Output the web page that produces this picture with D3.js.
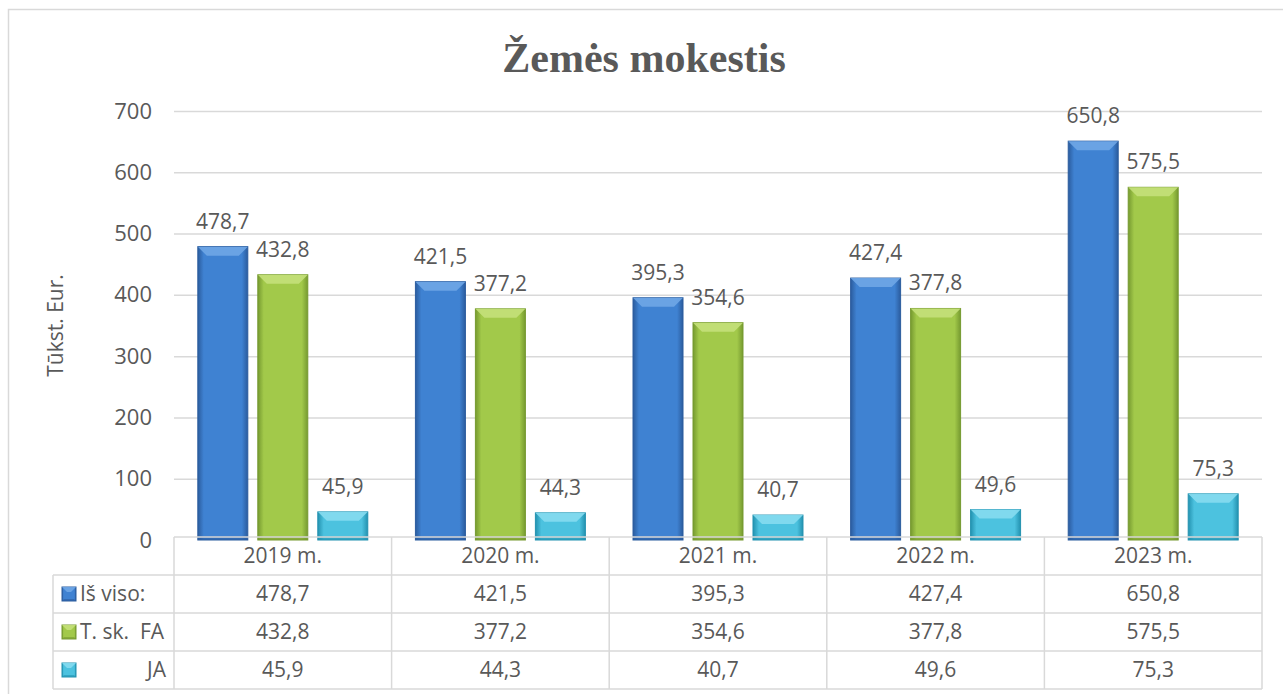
<!DOCTYPE html>
<html>
<head>
<meta charset="utf-8">
<script src="https://cdn.jsdelivr.net/npm/d3@7"></script>
<style>
  html, body { margin: 0; padding: 0; background: #fff; }
  svg text { font-family: "Open Sans", sans-serif; fill: #595959; }
</style>
</head>
<body>
<svg id="chart" width="1283" height="694"></svg>
<script>
// ---- data ----
const years   = ["2019 m.", "2020 m.", "2021 m.", "2022 m.", "2023 m."];
const series  = ["Iš viso:", "T. sk.  FA", "JA"];
const isViso  = [478.7, 421.5, 395.3, 427.4, 650.8];
const fa      = [432.8, 377.2, 354.6, 377.8, 575.5];
const ja      = [45.9, 44.3, 40.7, 49.6, 75.3];
const yTicks  = [0, 100, 200, 300, 400, 500, 600, 700];

const values = [isViso, fa, ja];
const COLORS = [
  { edge: "#2b5c9e", mid: "#3f82d2", top: "#6fa6e6" },
  { edge: "#769a30", mid: "#a2c94a", top: "#c4e07a" },
  { edge: "#2392b0", mid: "#4cc2df", top: "#86dcef" }
];
const fmt = v => d3.format(".1f")(v).replace(".", ",");
const FS = "21px";

const svg = d3.select("#chart");
const M = { l: 174, r: 1262, t: 111, b: 540 };

// outer frame
svg.append("rect")
  .attr("x", 8.5).attr("y", 9.5).attr("width", 1290).attr("height", 700)
  .attr("fill", "none").attr("stroke", "#d9d9d9").attr("stroke-width", 1.5);

// gradients
const defs = svg.append("defs");
COLORS.forEach((c, i) => {
  const gr = defs.append("linearGradient").attr("id", "g" + i)
    .attr("x1", 0).attr("x2", 1).attr("y1", 0).attr("y2", 0);
  gr.append("stop").attr("offset", "0%").attr("stop-color", c.edge);
  gr.append("stop").attr("offset", "12%").attr("stop-color", c.mid);
  gr.append("stop").attr("offset", "88%").attr("stop-color", c.mid);
  gr.append("stop").attr("offset", "100%").attr("stop-color", c.edge);
});

// title
svg.append("text")
  .attr("x", 644).attr("y", 72)
  .attr("text-anchor", "middle")
  .style("font-family", "'Liberation Serif', 'Times New Roman', serif")
  .style("font-weight", "bold")
  .style("font-size", "42px")
  .text("Žemės mokestis");

// scales
const x = d3.scaleBand().domain(years).range([M.l, M.r]).padding(0);
const xs = d3.scaleBand().domain(d3.range(series.length))
  .range([0, x.bandwidth()]).paddingInner(1 / 6).paddingOuter(0.397);
const y = d3.scaleLinear().domain([0, 700]).range([M.b, M.t]);

// gridlines
svg.append("g")
  .attr("transform", `translate(${M.l},0)`)
  .call(d3.axisLeft(y).tickValues(yTicks.slice(1)).tickSize(-(M.r - M.l)).tickFormat(""))
  .call(g => g.select(".domain").remove())
  .call(g => g.selectAll("line").attr("stroke", "#d9d9d9").attr("stroke-width", 1.5));

// y tick labels
svg.append("g")
  .attr("transform", `translate(${M.l - 22},0)`)
  .call(d3.axisLeft(y).tickValues(yTicks).tickSize(0).tickPadding(0))
  .call(g => g.select(".domain").remove())
  .call(g => g.selectAll("text").style("font-size", "22px").attr("fill", "#595959")
    .style("font-family", "'Open Sans', sans-serif"));

// y title
svg.append("text")
  .attr("transform", `translate(63,${(M.t + M.b) / 2}) rotate(-90)`)
  .attr("text-anchor", "middle")
  .style("font-size", "21px")
  .text("Tūkst. Eur.");

// bars with bevel look
function bevelBar(g, bx, by, bw, bh, ci, bev) {
  const c = COLORS[ci];
  g.append("rect").attr("x", bx).attr("y", by).attr("width", bw).attr("height", bh)
    .attr("fill", `url(#g${ci})`).attr("stroke", c.edge).attr("stroke-width", 1);
  const b = Math.min(bev, bh / 2, bw / 2);
  g.append("polygon")
    .attr("points", [[bx, by], [bx + bw, by], [bx + bw - b, by + b], [bx + b, by + b]].map(p => p.join(",")).join(" "))
    .attr("fill", c.top).attr("opacity", 0.9);
  g.append("polygon")
    .attr("points", [[bx, by + bh], [bx + bw, by + bh], [bx + bw - b * 0.4, by + bh - b * 0.4], [bx + b * 0.4, by + bh - b * 0.4]].map(p => p.join(",")).join(" "))
    .attr("fill", c.edge).attr("opacity", 0.6);
}

const bars = svg.append("g");
years.forEach((yr, i) => {
  values.forEach((vals, s) => {
    const bx = x(yr) + xs(s);
    bevelBar(bars, bx, y(vals[i]), xs.bandwidth(), y(0) - y(vals[i]), s, 9);
  });
});

// data labels
const labels = svg.append("g");
years.forEach((yr, i) => {
  values.forEach((vals, s) => {
    labels.append("text")
      .attr("x", x(yr) + xs(s) + xs.bandwidth() / 2)
      .attr("y", y(vals[i]) - 18)
      .attr("text-anchor", "middle")
      .style("font-size", FS)
      .text(fmt(vals[i]));
  });
});

// data table
const rowH = 38;
const tTop = M.b - 3;
const legL = 53;
const tbl = svg.append("g").attr("stroke", "#d9d9d9").attr("stroke-width", 1.5);
tbl.append("line").attr("x1", M.l).attr("x2", M.r).attr("y1", tTop).attr("y2", tTop);
for (let r = 1; r <= 4; r++) {
  tbl.append("line").attr("x1", legL).attr("x2", M.r)
    .attr("y1", tTop + r * rowH).attr("y2", tTop + r * rowH);
}
tbl.append("line").attr("x1", legL).attr("x2", legL).attr("y1", tTop + rowH).attr("y2", tTop + 4 * rowH);
years.forEach(yr => {
  tbl.append("line").attr("x1", x(yr)).attr("x2", x(yr)).attr("y1", tTop).attr("y2", tTop + 4 * rowH);
});
tbl.append("line").attr("x1", M.r).attr("x2", M.r).attr("y1", tTop).attr("y2", tTop + 4 * rowH);

const tt = svg.append("g");
years.forEach(yr => {
  tt.append("text").attr("x", x(yr) + x.bandwidth() / 2).attr("y", tTop + rowH / 2 + 7)
    .attr("text-anchor", "middle").style("font-size", FS).text(yr);
});
values.forEach((vals, s) => {
  const cy = tTop + (s + 1) * rowH + rowH / 2;
  vals.forEach((v, i) => {
    tt.append("text").attr("x", x(years[i]) + x.bandwidth() / 2).attr("y", cy + 7)
      .attr("text-anchor", "middle").style("font-size", FS).text(fmt(v));
  });
  bevelBar(tt, 62, cy - 7, 14, 14, s, 5);
  const isRight = s === 2;
  tt.append("text")
    .attr("x", isRight ? 166 : 80).attr("y", cy + 7)
    .attr("text-anchor", isRight ? "end" : "start")
    .attr("xml:space", "preserve").style("white-space", "pre")
    .style("font-size", FS).text(series[s]);
});
</script>
</body>
</html>
